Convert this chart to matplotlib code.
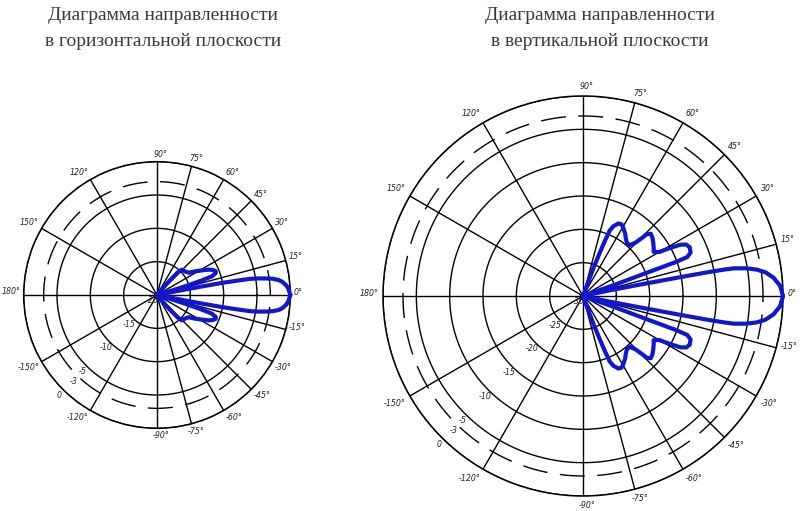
import numpy as np
import matplotlib
matplotlib.use("Agg")
import matplotlib.pyplot as plt
from matplotlib import font_manager

# ---------------- data ----------------
h_title = ["Диаграмма направленности", "в горизонтальной плоскости"]
v_title = ["Диаграмма направленности", "в вертикальной плоскости"]

spoke_angles = [0, 15, 30, 45, 60, 75, 90, 120, 150, 180,
                -150, -120, -90, -75, -60, -45, -30, -15]
spoke_labels = ["0°", "15°", "30°", "45°", "60°", "75°", "90°", "120°", "150°", "180°",
                "-150°", "-120°", "-90°", "-75°", "-60°", "-45°", "-30°", "-15°"]

h_min = -20
h_rings = [-15, -10, -5, 0]
h_dashed = -3
h_ring_values = [-20, -15, -10, -5, -3, 0]
h_ring_labels = ["-20", "-15", "-10", "-5", "-3", "0"]

v_min = -30
v_rings = [-25, -20, -15, -10, -5, 0]
v_dashed = -3
v_ring_values = [-30, -25, -20, -15, -10, -5, -3, 0]
v_ring_labels = ["-30", "-25", "-20", "-15", "-10", "-5", "-3", "0"]

# horizontal-plane pattern (degrees, dB)
h_angle = [0, 3, 4.4, 6, 7, 8, 8.6, 9.4, 9.9, 10.2, 10.5, 10.8, 11, 12,
           15.5, 16.5, 17.2, 18.0, 18.8, 20.5, 22.2, 24.5, 26.2, 29, 31.9, 35.1,
           40, 45.7, 47.5, 49, 50,
           -50, -49, -47.5, -45.7, -40, -35.1, -31.9, -29, -26.2, -24.5, -22.2,
           -20.5, -18.8, -18.0, -17.2, -16.5, -15.5,
           -12, -11, -10.8, -10.5, -10.2, -9.9, -9.4, -8.6, -8, -7, -6, -4.4, -3, 0]
h_gain = [0, -0.3, -0.6, -1.1, -1.6, -2.5, -3.4, -4.8, -6.0, -8.0, -10.0, -13.0, -16.0, -20,
          -20, -18, -15.6, -13.0, -11.3, -10.6, -10.5, -10.9, -11.4, -12.4, -13.3, -14.2,
          -14.5, -14.7, -15.5, -17.5, -20,
          -20, -17.5, -15.5, -14.7, -14.5, -14.2, -13.3, -12.4, -11.4, -10.9, -10.5,
          -10.6, -11.3, -13.0, -15.6, -18, -20,
          -20, -16.0, -13.0, -10.0, -8.0, -6.0, -4.8, -3.4, -2.5, -1.6, -1.1, -0.6, -0.3, 0]

# vertical-plane pattern (degrees, dB)
v_angle = [0, 3, 5.5, 7.4, 8.6, 9.6, 10.4, 10.6, 10.8, 11.0, 11.3, 12.0, 13.0,
           18.5, 19.5, 20.0, 20.1, 20.5, 22.0, 24.5, 26.5, 27.8, 28.9, 30.0, 32.0,
           34.0, 37.0, 40.0, 42.5, 44.0, 44.5, 45.5, 47.3, 50.0, 53.0, 56.0, 59.0,
           61.6, 64.0, 66.5, 67.8, 68.5, 69.5, 70.0,
           -70.0, -69.5, -68.5, -67.8, -66.5, -64.0, -61.6, -59.0, -56.0, -53.0, -50.0,
           -47.3, -45.5, -44.5, -44.0, -42.5, -40.0, -37.0, -34.0, -32.0, -30.0, -28.9,
           -27.8, -26.5, -24.5, -22.0, -20.5, -20.1, -20.0, -19.5, -18.5,
           -13.0, -12.0, -11.3, -11.0, -10.8, -10.6, -10.4, -9.6, -8.6, -7.4, -5.5, -3, 0]
v_gain = [0.0, -0.4, -1.3, -2.4, -3.6, -5.1, -7.0, -8.5, -11.0, -16.0, -21.0, -26.0, -30.0,
          -30.0, -25.0, -20.0, -15.0, -13.3, -12.6, -12.4, -12.7, -13.5, -15.1, -16.8, -17.5,
          -17.2, -16.8, -16.4, -16.2, -16.6, -17.5, -18.8, -19.6, -19.7, -19.3, -18.7, -18.2,
          -17.8, -17.9, -18.6, -19.4, -21.6, -25.4, -30.0,
          -30.0, -25.4, -21.6, -19.4, -18.6, -17.9, -17.8, -18.2, -18.7, -19.3, -19.7,
          -19.6, -18.8, -17.5, -16.6, -16.2, -16.4, -16.8, -17.2, -17.5, -16.8, -15.1,
          -13.5, -12.7, -12.4, -12.6, -13.3, -15.0, -20.0, -25.0, -30.0,
          -30.0, -26.0, -21.0, -16.0, -11.0, -8.5, -7.0, -5.1, -3.6, -2.4, -1.3, -0.4, 0.0]

# ---------------- style ----------------
W, H, DPI = 800, 511, 100
PX_PER_DB = 6.667
PT = 72.0 / DPI
BLUE = "#1216cc"
plt.rcParams["lines.scale_dashes"] = False

names = {f.name for f in font_manager.fontManager.ttflist}
if "Liberation Sans Narrow" in names:
    LAB = dict(family="Liberation Sans Narrow", fontsize=7, style="italic")
else:
    LAB = dict(family="DejaVu Sans", fontsize=6.3, style="italic", fontstretch="condensed")
title_font = "Liberation Serif" if "Liberation Serif" in names else "DejaVu Serif"

fig = plt.figure(figsize=(W / DPI, H / DPI), dpi=DPI)
fig.patch.set_facecolor("white")


def polar_panel(cx, cy, rmin, rings, dashed, ring_values, ring_labels, ang, gain, gap):
    R = -rmin * PX_PER_DB
    ax = fig.add_axes([(cx - R) / W, (H - cy - R) / H, 2 * R / W, 2 * R / H],
                      projection="polar")
    ax.set_ylim(rmin, 0)
    ax.set_xticks([])
    ax.set_yticks([])
    ax.grid(False)
    ax.patch.set_alpha(0)
    ax.spines["polar"].set_linewidth(1.1)
    ax.spines["polar"].set_color("black")

    full = np.linspace(0, 2 * np.pi, 721)
    for rv in rings:
        ax.plot(full, np.full_like(full, rv), color="black", lw=1.0)
    ax.plot(full, np.full_like(full, dashed), color="black", lw=1.0,
            linestyle=(0, (18, 9)))

    for a, lab in zip(spoke_angles, spoke_labels):
        t = np.deg2rad(a)
        ax.plot([t, t], [rmin, 0], color="black", lw=1.0, solid_capstyle="butt")
        c, s = np.cos(t), np.sin(t)
        ha = "left" if c > 0.3 else ("right" if c < -0.3 else "center")
        va = "bottom" if s > 0.3 else ("top" if s < -0.3 else "center")
        rl = R + gap
        dx = rl * c + (4 if ha == "center" else 0)
        dy = rl * s + (3 if va == "center" else 0)
        ax.annotate(lab, xy=(0, rmin), xycoords="data",
                    xytext=(dx * PT, dy * PT), textcoords="offset points",
                    ha=ha, va=va, color="#222222", annotation_clip=False, **LAB)

    tl = np.deg2rad(-134)
    for rv, lab in zip(ring_values, ring_labels):
        rl = (rv - rmin) * PX_PER_DB + 7
        ax.annotate(lab, xy=(0, rmin), xycoords="data",
                    xytext=(rl * np.cos(tl) * PT, rl * np.sin(tl) * PT),
                    textcoords="offset points", ha="center", va="center",
                    color="#222222", annotation_clip=False, **LAB)

    ax.plot([0], [rmin], "o", color="black", ms=4.5, clip_on=False)
    ax.plot(np.deg2rad(ang), gain, color=BLUE, lw=3.0, clip_on=False,
            solid_joinstyle="round", solid_capstyle="round", zorder=5)
    return ax


polar_panel(157, 295, h_min, h_rings, h_dashed, h_ring_values, h_ring_labels,
            h_angle, h_gain, 3)
polar_panel(583, 296, v_min, v_rings, v_dashed, v_ring_values, v_ring_labels,
            v_angle, v_gain, 5)

for (cx, lines) in [(163, h_title), (600, v_title)]:
    for i, s in enumerate(lines):
        fig.text(cx / W, 1 - (15 + 27 * i) / H, s, ha="center", va="center",
                 fontsize=14, family=title_font, color="#3a3a3a")

fig.savefig("out.png", dpi=DPI, facecolor="white")
